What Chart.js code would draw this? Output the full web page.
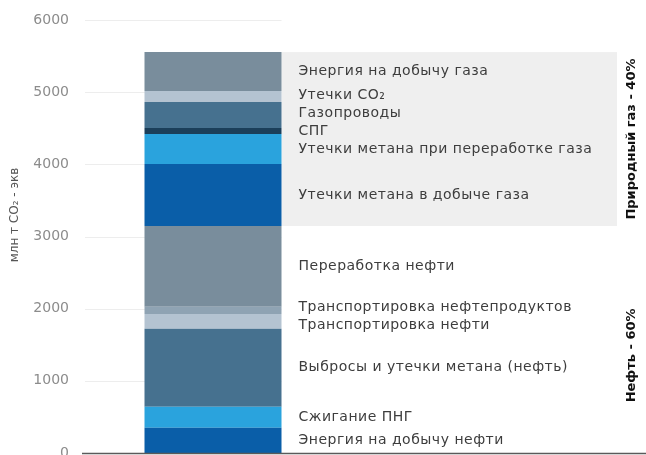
<!DOCTYPE html>
<html>
<head>
<meta charset="utf-8">
<script src="https://cdn.jsdelivr.net/npm/chart.js@4.4.0/dist/chart.umd.min.js"></script>
<style>
    html, body { margin: 0; padding: 0; background: #fff; }
    #wrap { width: 646px; height: 455px; position: relative; }
</style>
</head>
<body>
<div id="wrap"><canvas id="chart"></canvas></div>
<script>
// --- Data (segments listed bottom to top) ---
const oilLabels = ['Энергия на добычу нефти', 'Сжигание ПНГ', 'Выбросы и утечки метана (нефть)',
    'Транспортировка нефти', 'Транспортировка нефтепродуктов', 'Переработка нефти'];
const oilValues = [350, 290, 1080, 205, 100, 1120];

const gasLabels = ['Утечки метана в добыче газа', 'Утечки метана при переработке газа', 'СПГ',
    'Газопроводы', 'Утечки CO₂', 'Энергия на добычу газа'];
const gasValues = [860, 415, 85, 360, 150, 540];

const groupLabels = ['Нефть - 60%', 'Природный газ - 40%'];
const yTicks = [0, 1000, 2000, 3000, 4000, 5000, 6000];
const axisTitle = 'млн т CO₂ - экв';

// --- Colours ---
const oilColors = ['#0a5ea8', '#2aa3dd', '#46718f', '#b4c3d1', '#8fa3b3', '#798d9c'];
const gasColors = ['#0a5ea8', '#2aa3dd', '#1b3f5a', '#46718f', '#b4c3d1', '#798d9c'];

const FONT = '"DejaVu Sans", sans-serif';
const sum = arr => arr.reduce((a, b) => a + b, 0);

const allLabels = oilLabels.concat(gasLabels);
const allValues = oilValues.concat(gasValues);
const allColors = oilColors.concat(gasColors);

const datasets = allValues.map((v, i) => ({
    label: allLabels[i],
    data: [v],
    backgroundColor: allColors[i],
    borderWidth: 0,
    barPercentage: 137 / 256,
    categoryPercentage: 1
}));

// spread labels that sit too close to each other
function spread(items, gap) {
    items.sort((a, b) => a.y - b.y);
    for (let k = 0; k < 60; k++) {
        for (let i = 1; i < items.length; i++) {
            const d = items[i].y - items[i - 1].y;
            if (d < gap) {
                const push = (gap - d) / 2;
                items[i].y += push;
                items[i - 1].y -= push;
            }
        }
    }
    return items;
}

const overlay = {
    id: 'overlay',
    beforeDatasetsDraw(chart) {
        const { ctx, chartArea, scales: { y } } = chart;
        const bar = chart.getDatasetMeta(0).data[0];
        const barRight = bar.x + bar.width / 2;
        ctx.save();
        // grid lines, only up to the bar
        ctx.strokeStyle = '#ededed';
        ctx.lineWidth = 1;
        yTicks.forEach(t => {
            if (t === 0) return;
            const py = Math.round(y.getPixelForValue(t)) + 0.5;
            ctx.beginPath();
            ctx.moveTo(chartArea.left, py);
            ctx.lineTo(barRight, py);
            ctx.stroke();
        });
        // grey panel behind the gas labels
        const oilTotal = sum(oilValues);
        const total = oilTotal + sum(gasValues);
        const top = y.getPixelForValue(total);
        const bottom = y.getPixelForValue(oilTotal);
        ctx.fillStyle = '#efefef';
        ctx.fillRect(barRight, top, 617 - barRight, bottom - top);
        ctx.restore();
    },
    afterDraw(chart) {
        const { ctx, scales: { y } } = chart;
        const bar = chart.getDatasetMeta(0).data[0];
        const barRight = bar.x + bar.width / 2;
        ctx.save();

        // segment labels
        const groups = [[oilLabels, oilValues, 0], [gasLabels, gasValues, sum(oilValues)]];
        ctx.font = '14px ' + FONT;
        ctx.letterSpacing = '0.5px';
        ctx.fillStyle = '#3d3d3d';
        ctx.textAlign = 'left';
        ctx.textBaseline = 'middle';
        groups.forEach(([labels, values, base]) => {
            let acc = base;
            const items = values.map((v, i) => {
                const mid = acc + v / 2;
                acc += v;
                return { text: labels[i], y: y.getPixelForValue(mid) };
            });
            spread(items, 18).forEach(it => ctx.fillText(it.text, barRight + 17, it.y));
        });
        ctx.letterSpacing = '0px';

        // group labels on the right
        const oilTotal = sum(oilValues);
        const total = oilTotal + sum(gasValues);
        ctx.font = 'bold 13px ' + FONT;
        ctx.fillStyle = '#111';
        ctx.textAlign = 'center';
        const gasMid = (y.getPixelForValue(total) + y.getPixelForValue(oilTotal)) / 2;
        const oilMid = y.getPixelForValue(oilTotal * 0.43);
        [[groupLabels[0], oilMid], [groupLabels[1], gasMid]].forEach(([t, py]) => {
            ctx.save();
            ctx.translate(632, py);
            ctx.rotate(-Math.PI / 2);
            ctx.fillText(t, 0, 0);
            ctx.restore();
        });

        // axis title
        ctx.font = '12px ' + FONT;
        ctx.fillStyle = '#555';
        ctx.save();
        ctx.translate(15, 215);
        ctx.rotate(-Math.PI / 2);
        ctx.fillText(axisTitle, 0, 0);
        ctx.restore();

        // baseline
        const y0 = Math.round(y.getPixelForValue(0)) + 0.5;
        ctx.strokeStyle = '#5a5a5a';
        ctx.lineWidth = 1.5;
        ctx.beginPath();
        ctx.moveTo(82, y0);
        ctx.lineTo(646, y0);
        ctx.stroke();
        ctx.restore();
    }
};

new Chart(document.getElementById('chart'), {
    type: 'bar',
    data: { labels: [''], datasets },
    options: {
        responsive: true,
        maintainAspectRatio: false,
        animation: false,
        layout: { padding: { top: 20, bottom: 2, left: 0, right: 305 } },
        plugins: { legend: { display: false }, tooltip: { enabled: false } },
        scales: {
            x: { stacked: true, display: false },
            y: {
                stacked: true,
                min: 0,
                max: 6000,
                afterBuildTicks: axis => { axis.ticks = yTicks.map(v => ({ value: v })); },
                afterFit: axis => {
                    axis.width = 85;
                    axis.paddingTop = 0;
                    axis.paddingBottom = 0;
                },
                grid: { display: false },
                border: { display: false },
                ticks: {
                    padding: 8,
                    color: '#8c8c8c',
                    font: { family: FONT, size: 14 },
                    callback: v => String(v)
                }
            }
        }
    },
    plugins: [overlay]
});
</script>
</body>
</html>
